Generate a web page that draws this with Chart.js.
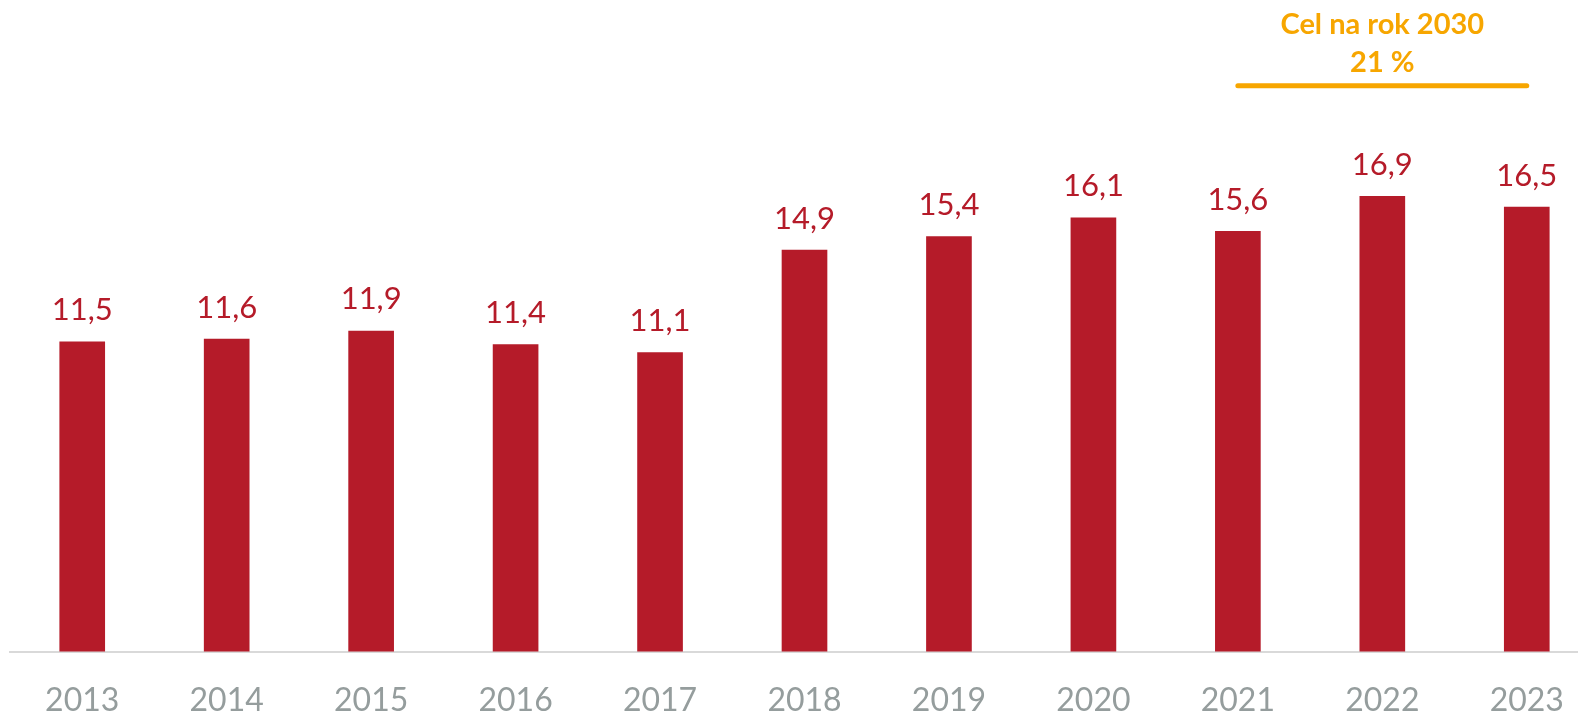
<!DOCTYPE html>
<html>
<head>
<meta charset="utf-8">
<script src="https://cdn.jsdelivr.net/npm/chart.js@4.4.1/dist/chart.umd.min.js"></script>
<style>
  html, body { margin: 0; padding: 0; background: #fff; overflow: hidden; }
  #wrap { width: 1600px; height: 713px; }
</style>
</head>
<body>
<div id="wrap"><canvas id="grafico"></canvas></div>
<script>
// DADOS
const lata = ['2013', '2014', '2015', '2016', '2017', '2018', '2019', '2020', '2021', '2022', '2023']
const udzial = [11.5, 11.6, 11.9, 11.4, 11.1, 14.9, 15.4, 16.1, 15.6, 16.9, 16.5]
const cel = [null, null, null, null, null, null, null, null, 21, 21, 21]
const celTekst = ['Cel na rok 2030', '21 %']

const czerwony = '#B51B29'
const pomaranczowy = '#F7A600'

// etykiety nad słupkami + opis celu
const etykiety = {
    id: 'etykiety',
    afterDatasetsDraw(chart) {
        const ctx = chart.ctx
        const meta = chart.getDatasetMeta(0)
        ctx.save()
        ctx.fillStyle = czerwony
        ctx.font = '31px Lato'
        ctx.textAlign = 'center'
        ctx.textBaseline = 'bottom'
        meta.data.forEach((bar, i) => {
            ctx.fillText(udzial[i].toFixed(1).replace('.', ','), bar.x, bar.y - 16)
        })

        // texto do objetivo
        const x = chart.scales.x.getPixelForValue(9)
        const y = chart.scales.y.getPixelForValue(21)
        ctx.fillStyle = pomaranczowy
        ctx.font = 'bold 29px Lato'
        ctx.textBaseline = 'middle'
        ctx.fillText(celTekst[0], x, y - 61)
        ctx.fillText(celTekst[1], x, y - 23)
        ctx.restore()
    }
}

let grafico = new Chart(document.getElementById('grafico'), {
    data: {
        labels: lata,
        datasets: [
            {
                type: 'bar',
                data: udzial,
                backgroundColor: czerwony,
                barThickness: 45,
                order: 2
            },
            {
                type: 'line',
                data: cel,
                borderColor: pomaranczowy,
                borderWidth: 5,
                borderCapStyle: 'round',
                pointRadius: 0,
                spanGaps: false,
                order: 1
            }
        ]
    },
    options: {
        responsive: true,
        maintainAspectRatio: false,
        animation: false,
        layout: { padding: { left: 10, right: 1, top: 5, bottom: -37 } },
        plugins: {
            legend: { display: false },
            tooltip: { enabled: false }
        },
        scales: {
            x: {
                grid: { display: false, drawTicks: false },
                border: { display: true, color: '#D9D9D9', width: 2 },
                ticks: {
                    color: '#959D9D',
                    font: { family: 'Lato', size: 32 },
                    padding: 30
                }
            },
            y: {
                display: false,
                min: 0,
                max: 24
            }
        }
    },
    plugins: [etykiety]
})
</script>
</body>
</html>
